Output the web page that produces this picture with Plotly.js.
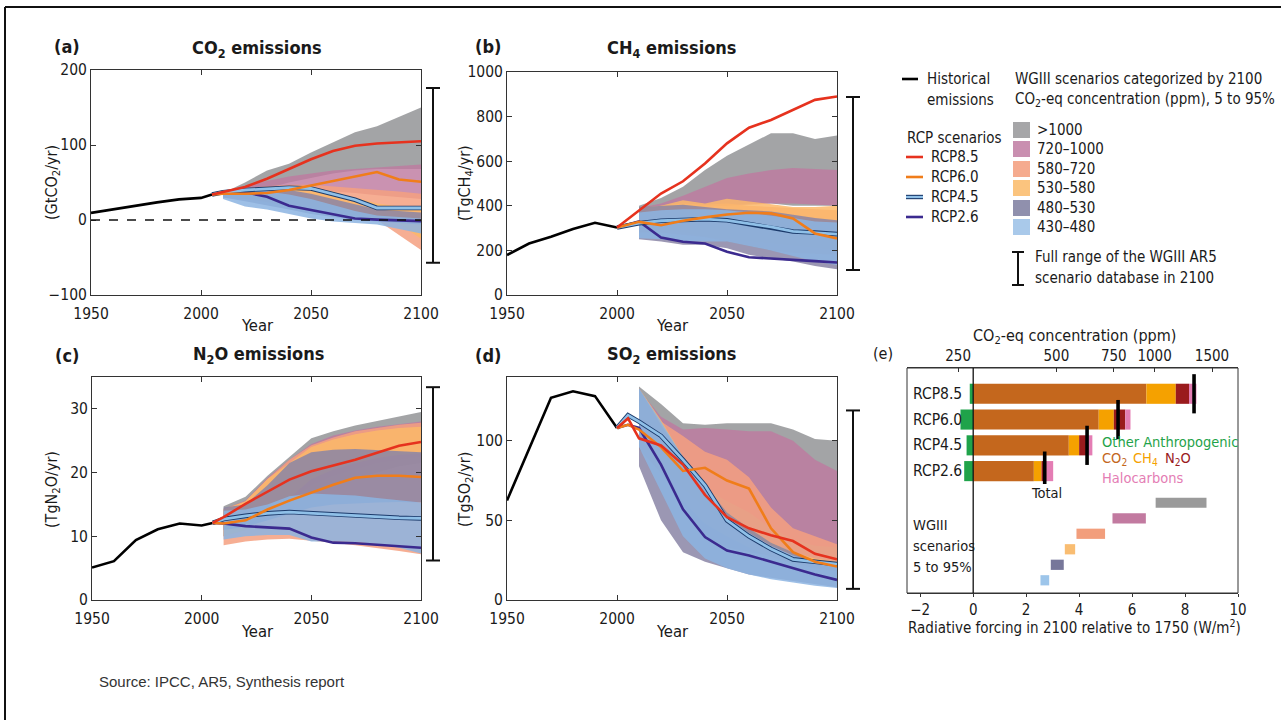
<!DOCTYPE html>
<html>
<head>
<meta charset="utf-8">
<script src="https://cdn.plot.ly/plotly-3.0.1.min.js"></script>
<style>html,body{margin:0;padding:0;background:#fff;}#chart{width:1281px;height:720px;}</style>
</head>
<body>
<div id="chart"></div>
<script>
// ---------------- DATA ----------------
const bandYears = [2010, 2020, 2030, 2040, 2050, 2060, 2070, 2080, 2090, 2100];
const bandNames = ['>1000', '720–1000', '580–720', '530–580', '480–530', '430–480'];

// (a) CO2 emissions (GtCO2/yr)
const histYearsA = [1950, 1960, 1970, 1980, 1990, 2000, 2005];
const histCO2 = [9.5, 14, 19.5, 23.5, 27.5, 29.5, 34];
const rcpYearsA = [2005, 2010, 2020, 2030, 2040, 2050, 2060, 2070, 2080, 2090, 2100];
const co2_rcp85 = [34, 37, 44, 55, 68, 81, 92, 99, 102, 104, 105];
const co2_rcp60 = [34, 35, 35, 36, 40, 46, 53, 59, 64, 54, 51];
const co2_rcp45 = [34, 37, 40, 42, 43, 42, 35, 27, 16, 16, 16];
const co2_rcp26 = [34, 37, 37, 31, 19, 13, 7, 2, 0.5, -1, -1.5];
const co2_low = [
  [32, 38, 42, 50, 56, 62, 66, 68, 68, 68],
  [32, 34, 36, 38, 38, 38, 36, 33, 30, 28],
  [30, 28, 26, 22, 18, 14, 8, 0, -20, -40],
  [30, 28, 24, 18, 12, 8, 5, 2, -5, -25],
  [30, 25, 20, 14, 8, 4, 0, -2, -4, -6],
  [28, 18, 14, 8, 2, -2, -4, -6, -12, -18]
];
const co2_high = [
  [36, 50, 66, 75, 90, 103, 117, 125, 137, 150],
  [36, 45, 52, 58, 62, 66, 68, 70, 72, 74],
  [36, 42, 45, 47, 47, 45, 42, 40, 38, 35],
  [36, 40, 43, 45, 43, 38, 30, 22, 18, 15],
  [36, 40, 42, 40, 35, 28, 20, 14, 12, 10],
  [36, 38, 38, 34, 28, 20, 12, 6, 4, 2]
];

// (b) CH4 emissions (TgCH4/yr)
const histYearsB = [1950, 1960, 1970, 1980, 1990, 2000];
const histCH4 = [179, 231, 261, 296, 324, 303];
const rcpYearsB = [2000, 2010, 2020, 2030, 2040, 2050, 2060, 2070, 2080, 2090, 2100];
const ch4_rcp85 = [303, 380, 455, 510, 590, 680, 750, 785, 830, 875, 890];
const ch4_rcp60 = [303, 328, 313, 333, 348, 361, 369, 366, 343, 276, 254];
const ch4_rcp45 = [303, 322, 333, 338, 340, 335, 320, 305, 285, 280, 273];
const ch4_rcp26 = [303, 330, 258, 239, 231, 194, 169, 164, 160, 152, 146];
const ch4_low = [
  [360, 380, 390, 400, 400, 410, 410, 400, 400, 400],
  [380, 390, 390, 395, 400, 405, 410, 410, 405, 400],
  [280, 280, 270, 260, 250, 240, 230, 220, 210, 200],
  [300, 290, 280, 260, 240, 220, 200, 190, 185, 180],
  [250, 240, 225, 225, 210, 180, 165, 150, 130, 115],
  [255, 250, 240, 240, 240, 220, 200, 175, 150, 135]
];
const ch4_high = [
  [400, 435, 485, 560, 625, 675, 725, 725, 700, 715],
  [390, 410, 445, 485, 525, 545, 560, 570, 565, 560],
  [390, 400, 410, 405, 410, 400, 395, 390, 385, 380],
  [390, 400, 425, 410, 432, 420, 410, 395, 395, 400],
  [395, 400, 405, 395, 385, 380, 375, 360, 345, 335],
  [370, 380, 385, 385, 380, 370, 355, 345, 330, 325]
];

// (c) N2O emissions (TgN2O/yr)
const histYearsC = [1950, 1960, 1970, 1980, 1990, 2000, 2005];
const histN2O = [5.1, 6.1, 9.4, 11.1, 12.0, 11.7, 12.1];
const rcpYearsC = [2005, 2010, 2020, 2030, 2040, 2050, 2060, 2070, 2080, 2090, 2100];
const n2o_rcp85 = [12.1, 13, 15.1, 17, 18.9, 20.2, 21.1, 22, 23.1, 24.2, 24.8];
const n2o_rcp60 = [12.1, 12, 12.5, 14.2, 15.6, 16.9, 18.1, 19.2, 19.5, 19.5, 19.3];
const n2o_rcp45 = [12.1, 12.7, 13.2, 13.6, 13.8, 13.6, 13.5, 13.3, 13, 12.9, 12.8];
const n2o_rcp26 = [12.1, 12, 11.6, 11.4, 11.2, 9.8, 9.0, 8.9, 8.7, 8.5, 8.2];
const n2o_low = [
  [10, 11, 13, 15, 17, 18, 19, 20, 21, 21.5],
  [10, 11, 13, 15.5, 18, 19.5, 20.5, 21.5, 22, 22.5],
  [8.6, 9.2, 9.5, 9.6, 9.3, 9.0, 8.6, 8.2, 7.7, 7.2],
  [10, 11, 13, 16, 19, 20.5, 21.5, 22.3, 22.8, 23],
  [11, 11.5, 12.5, 13.5, 14.5, 15, 15.2, 15.3, 15.4, 15.3],
  [9.5, 10, 10.2, 10.2, 9.2, 9.2, 9.1, 8.8, 8.2, 7.3]
];
const n2o_high = [
  [14.7, 16.2, 19.5, 22.5, 25.4, 26.5, 27.4, 28.1, 28.8, 29.5],
  [14.3, 15.6, 19.2, 22, 24.5, 25.8, 26.6, 27.2, 27.6, 28],
  [14, 15.5, 19, 22, 24.3, 25.5, 26.5, 27, 27.5, 27.8],
  [14.3, 15.5, 19, 21.5, 24, 25.2, 26, 26.6, 27, 27.2],
  [14.5, 15, 18, 21.5, 23.2, 23.6, 23.7, 23.5, 23.3, 23.2],
  [14, 14.2, 15, 16.3, 16.7, 16.6, 16.4, 16, 15.6, 15.3]
];

// (d) SO2 emissions (TgSO2/yr)
const histYearsD = [1950, 1960, 1970, 1980, 1990, 2000];
const histSO2 = [62.5, 95, 127, 131, 128, 108];
const rcpYearsD = [2000, 2005, 2010, 2020, 2030, 2040, 2050, 2060, 2070, 2080, 2090, 2100];
const so2_rcp85 = [108, 114, 101.5, 97, 85, 66, 52, 45, 40.6, 37, 29, 25.6];
const so2_rcp60 = [108, 110, 107, 96, 81, 83, 75, 70, 45, 30, 24, 21];
const so2_rcp45 = [108, 116, 112, 103, 88, 72, 50, 40, 32, 25.5, 24, 22.5];
const so2_rcp26 = [108, 110, 108, 85, 57, 39.5, 31, 28, 24, 20, 16, 12.6];
const so2_low = [
  [95, 80, 60, 40, 33, 30, 28, 26, 25, 24],
  [100, 90, 80, 70, 62, 55, 45, 38, 34, 33],
  [100, 85, 70, 58, 48, 40, 33, 28, 25, 22],
  [95, 80, 62, 48, 40, 33, 27, 23, 20, 18],
  [84, 50, 30, 24, 20, 16, 14, 12, 10, 8],
  [96, 68, 40, 26, 20, 16, 13, 11, 9, 7.5]
];
const so2_high = [
  [134, 123, 111, 110, 111, 111, 111, 107, 101, 100],
  [132, 115, 107, 108, 107, 106, 106, 100, 88, 81],
  [133, 112, 103, 93, 88, 77, 58, 45, 40, 35],
  [133, 113, 90, 70, 55, 45, 36, 30, 26, 24],
  [133, 110, 90, 72, 55, 45, 36, 30, 25, 22],
  [133, 112, 90, 70, 52, 42, 34, 28, 24, 21]
];

// Full range of WGIII AR5 scenario database in 2100 (a, b, c, d)
const fullRangeLow = [-57, 112, 6.2, 7];
const fullRangeHigh = [176, 888, 33.4, 119];

// (e) Radiative forcing in 2100 relative to 1750 (W/m2)
const rcpNames = ['RCP8.5', 'RCP6.0', 'RCP4.5', 'RCP2.6'];
const rfOther = [-0.13, -0.48, -0.25, -0.34];
const rfCO2 = [6.54, 4.74, 3.61, 2.29];
const rfCH4 = [1.11, 0.57, 0.39, 0.29];
const rfN2O = [0.50, 0.43, 0.34, 0.19];
const rfHalo = [0.28, 0.20, 0.16, 0.25];
const rfTotal = [8.34, 5.47, 4.30, 2.70];
const wg3Low = [6.89, 5.26, 3.90, 3.46, 2.93, 2.54];
const wg3High = [8.81, 6.52, 4.98, 3.85, 3.42, 2.87];
const concTicks = [250, 500, 750, 1000, 1500];
const forcingTicks = [-2, 0, 2, 4, 6, 8, 10];

// ---------------- STYLE ----------------
const W = 1281, H = 720;
const X = p => p / W;
const Y = p => 1 - p / H;
const FONT = '"DejaVu Sans Condensed", "DejaVu Sans", sans-serif';
const TXT = '#1a1a1a';
const bandFill = ['rgba(150,151,154,0.88)', 'rgba(190,122,160,0.82)', 'rgba(245,160,128,0.85)',
                  'rgba(251,185,105,0.85)', 'rgba(138,133,166,0.85)', 'rgba(140,180,226,0.85)'];
const bandSwatch = ['#a6a6a8', '#c98fb0', '#f5ab8f', '#fbc47e', '#9090ad', '#a9c9ea'];
const C85 = '#e6321e', C60 = '#f07d1a', C45in = '#8fc0e8', C45out = '#1b3a6b', C26 = '#3b2a8f';
const rfColors = {other: '#1fa34a', co2: '#c4671d', ch4: '#f5a100', n2o: '#9a1b1d', halo: '#e47db4'};
const wg3Colors = ['#9a9a9a', '#c27aa0', '#f29e7c', '#f9bd72', '#77779a', '#9dc5ea'];

// ---------------- TRACES ----------------
const traces = [];
function panel(xa, ya, lows, highs, hy, hv, ry, r85, r60, r45, r26) {
  for (let i = 0; i < lows.length; i++) {
    traces.push({
      type: 'scatter', mode: 'lines', xaxis: xa, yaxis: ya,
      x: bandYears.concat(bandYears.slice().reverse()),
      y: highs[i].concat(lows[i].slice().reverse()),
      fill: 'toself', fillcolor: bandFill[i], line: {width: 0}, hoverinfo: 'skip', showlegend: false
    });
  }
  traces.push({type: 'scatter', mode: 'lines', xaxis: xa, yaxis: ya, x: hy, y: hv,
    line: {color: '#000', width: 2.6}, showlegend: false});
  traces.push({type: 'scatter', mode: 'lines', xaxis: xa, yaxis: ya, x: ry, y: r26,
    line: {color: C26, width: 2.6}, showlegend: false});
  traces.push({type: 'scatter', mode: 'lines', xaxis: xa, yaxis: ya, x: ry, y: r45,
    line: {color: C45out, width: 4.6}, showlegend: false});
  traces.push({type: 'scatter', mode: 'lines', xaxis: xa, yaxis: ya, x: ry, y: r45,
    line: {color: C45in, width: 2.8}, showlegend: false});
  traces.push({type: 'scatter', mode: 'lines', xaxis: xa, yaxis: ya, x: ry, y: r60,
    line: {color: C60, width: 2.6}, showlegend: false});
  traces.push({type: 'scatter', mode: 'lines', xaxis: xa, yaxis: ya, x: ry, y: r85,
    line: {color: C85, width: 2.6}, showlegend: false});
}
panel('x', 'y', co2_low, co2_high, histYearsA, histCO2, rcpYearsA, co2_rcp85, co2_rcp60, co2_rcp45, co2_rcp26);
panel('x2', 'y2', ch4_low, ch4_high, histYearsB, histCH4, rcpYearsB, ch4_rcp85, ch4_rcp60, ch4_rcp45, ch4_rcp26);
panel('x3', 'y3', n2o_low, n2o_high, histYearsC, histN2O, rcpYearsC, n2o_rcp85, n2o_rcp60, n2o_rcp45, n2o_rcp26);
panel('x4', 'y4', so2_low, so2_high, histYearsD, histSO2, rcpYearsD, so2_rcp85, so2_rcp60, so2_rcp45, so2_rcp26);

// (e) stacked forcing bars
[[rfOther, rfColors.other], [rfCO2, rfColors.co2], [rfCH4, rfColors.ch4], [rfN2O, rfColors.n2o], [rfHalo, rfColors.halo]]
  .forEach(([vals, col]) => {
    traces.push({type: 'bar', orientation: 'h', xaxis: 'x5', yaxis: 'y5', x: vals, y: rcpNames,
      width: 0.78, marker: {color: col, line: {width: 0}}, showlegend: false, hoverinfo: 'skip'});
  });
traces.push({type: 'scatter', mode: 'markers', xaxis: 'x5', yaxis: 'y5', x: rfTotal, y: rcpNames,
  marker: {symbol: 'line-ns', size: 28, line: {width: 3.6, color: '#000'}}, showlegend: false, hoverinfo: 'skip'});
traces.push({type: 'bar', orientation: 'h', xaxis: 'x5', yaxis: 'y6',
  base: wg3Low, x: wg3High.map((h, i) => h - wg3Low[i]), y: bandNames, width: 0.66,
  marker: {color: wg3Colors, line: {width: 0}}, showlegend: false, hoverinfo: 'skip'});
// invisible helper so the top (concentration) axis is drawn
traces.push({type: 'scatter', mode: 'markers', xaxis: 'x6', yaxis: 'y5', x: [rfTotal[0]], y: [rcpNames[0]],
  marker: {opacity: 0, size: 1}, showlegend: false, hoverinfo: 'skip'});

// ---------------- AXES ----------------
const tickFont = {family: FONT, size: 15.5, color: TXT};
function mainX(l, r, anchor) {
  return {domain: [X(l), X(r)], anchor: anchor, range: [1950, 2100], tickvals: [1950, 2000, 2050, 2100],
    ticks: 'inside', ticklen: 5, tickcolor: '#333', showline: true, linecolor: '#333', linewidth: 1,
    mirror: 'ticks', showgrid: false, zeroline: false, tickfont: tickFont, fixedrange: true, ticklabelstandoff: 4};
}
function mainY(t, b, anchor, range, tv) {
  return {domain: [Y(b), Y(t)], anchor: anchor, range: range, tickvals: tv,
    ticks: 'inside', ticklen: 5, tickcolor: '#333', showline: true, linecolor: '#333', linewidth: 1,
    mirror: 'ticks', showgrid: false, zeroline: false, tickfont: tickFont, fixedrange: true};
}
const C0 = 278;
const concPos = concTicks.map(c => 5.35 * Math.log(c / C0));
const eTickFont = {family: FONT, size: 15, color: TXT};

const layout = {
  width: W, height: H, margin: {l: 0, r: 0, t: 0, b: 0}, paper_bgcolor: '#fff', plot_bgcolor: 'rgba(0,0,0,0)',
  showlegend: false, barmode: 'relative', font: {family: FONT, color: TXT},
  xaxis: mainX(91, 421, 'y'), yaxis: mainY(70, 295, 'x', [-100, 200], [-100, 0, 100, 200]),
  xaxis2: mainX(507, 837, 'y2'), yaxis2: mainY(72, 295, 'x2', [0, 1000], [0, 200, 400, 600, 800, 1000]),
  xaxis3: mainX(92, 421, 'y3'), yaxis3: mainY(377, 600, 'x3', [0, 35], [0, 10, 20, 30]),
  xaxis4: mainX(507, 837, 'y4'), yaxis4: mainY(377, 600, 'x4', [0, 140], [0, 50, 100]),
  xaxis5: {domain: [X(907), X(1238)], anchor: 'y6', side: 'bottom', range: [-2.5, 10], tickvals: forcingTicks,
    ticks: 'outside', ticklen: 3, tickcolor: '#333', showline: true, linecolor: '#333', showgrid: false,
    zeroline: false, tickfont: eTickFont, fixedrange: true},
  xaxis6: {domain: [X(907), X(1238)], overlaying: 'x5', side: 'top', anchor: 'y5', range: [-2.5, 10],
    tickvals: concPos, ticktext: concTicks.map(String), ticks: 'inside', ticklen: 4, tickcolor: '#333',
    showline: true, linecolor: '#333', showgrid: false, zeroline: false, tickfont: eTickFont, fixedrange: true},
  yaxis5: {domain: [Y(484), Y(368)], anchor: 'x5', type: 'category', categoryarray: rcpNames,
    range: [3.5, -1.0], ticks: '', showline: false, showgrid: false, zeroline: false,
    showticklabels: false, fixedrange: true},
  yaxis6: {domain: [Y(593), Y(495)], anchor: 'x5', type: 'category', categoryarray: bandNames,
    range: [5.82, -0.5], showticklabels: false, ticks: '', showline: false, showgrid: false, zeroline: false,
    fixedrange: true},
  shapes: [], annotations: []
};

// ---------------- SHAPES ----------------
const S = layout.shapes;
// outer frame
S.push({type: 'line', xref: 'paper', yref: 'paper', x0: X(5), x1: X(5), y0: Y(7), y1: Y(720), line: {color: '#111', width: 2}});
S.push({type: 'line', xref: 'paper', yref: 'paper', x0: X(5), x1: X(1281), y0: Y(7), y1: Y(7), line: {color: '#111', width: 2}});
// zero dashed line in (a)
S.push({type: 'line', xref: 'x', yref: 'y', x0: 1950, x1: 2100, y0: 0, y1: 0, line: {color: '#111', width: 1.3, dash: 'dash'}});
// full-range bars
[['y', 433], ['y2', 853], ['y3', 433], ['y4', 853]].forEach(([yr, px], i) => {
  const lo = fullRangeLow[i], hi = fullRangeHigh[i];
  const st = {color: '#111', width: 2};
  S.push({type: 'line', xref: 'paper', yref: yr, x0: X(px), x1: X(px), y0: lo, y1: hi, line: st});
  S.push({type: 'line', xref: 'paper', yref: yr, x0: X(px - 7), x1: X(px + 7), y0: lo, y1: lo, line: st});
  S.push({type: 'line', xref: 'paper', yref: yr, x0: X(px - 7), x1: X(px + 7), y0: hi, y1: hi, line: st});
});
// (e) frame and zero line
S.push({type: 'rect', xref: 'paper', yref: 'paper', x0: X(907), x1: X(1238), y0: Y(593), y1: Y(368), line: {color: '#333', width: 1}, layer: 'below'});
S.push({type: 'line', xref: 'x5', yref: 'paper', x0: 0, x1: 0, y0: Y(593), y1: Y(368), line: {color: '#111', width: 1.3}});
// legend swatches
S.push({type: 'line', xref: 'paper', yref: 'paper', x0: X(902), x1: X(918), y0: Y(79), y1: Y(79), line: {color: '#000', width: 2.6}});
const legY = [157, 177, 197, 217];
S.push({type: 'line', xref: 'paper', yref: 'paper', x0: X(906), x1: X(923), y0: Y(legY[0]), y1: Y(legY[0]), line: {color: C85, width: 2.6}});
S.push({type: 'line', xref: 'paper', yref: 'paper', x0: X(906), x1: X(923), y0: Y(legY[1]), y1: Y(legY[1]), line: {color: C60, width: 2.6}});
S.push({type: 'line', xref: 'paper', yref: 'paper', x0: X(906), x1: X(923), y0: Y(legY[2]), y1: Y(legY[2]), line: {color: C45out, width: 4.4}});
S.push({type: 'line', xref: 'paper', yref: 'paper', x0: X(906), x1: X(923), y0: Y(legY[2]), y1: Y(legY[2]), line: {color: C45in, width: 2.2}});
S.push({type: 'line', xref: 'paper', yref: 'paper', x0: X(906), x1: X(923), y0: Y(legY[3]), y1: Y(legY[3]), line: {color: C26, width: 2.6}});
const sqY = [130, 149, 169, 188, 208, 227];
sqY.forEach((cy, i) => {
  S.push({type: 'rect', xref: 'paper', yref: 'paper', x0: X(1013), x1: X(1030), y0: Y(cy + 8), y1: Y(cy - 8),
    fillcolor: bandSwatch[i], line: {width: 0}});
});
S.push({type: 'line', xref: 'paper', yref: 'paper', x0: X(1018), x1: X(1018), y0: Y(252), y1: Y(285), line: {color: '#111', width: 2}});
S.push({type: 'line', xref: 'paper', yref: 'paper', x0: X(1012), x1: X(1024), y0: Y(252), y1: Y(252), line: {color: '#111', width: 2}});
S.push({type: 'line', xref: 'paper', yref: 'paper', x0: X(1012), x1: X(1024), y0: Y(285), y1: Y(285), line: {color: '#111', width: 2}});

// ---------------- TEXT ----------------
const A = layout.annotations;
function ann(text, x, y, o) {
  o = o || {};
  A.push({text: text, x: X(x), y: Y(y), xref: 'paper', yref: 'paper', showarrow: false,
    xanchor: o.xa || 'center', yanchor: 'middle', textangle: o.rot || 0,
    font: {family: FONT, size: o.size || 16, color: o.color || TXT}});
}
// panel labels and titles
ann('<b>(a)</b>', 67, 47, {size: 18});
ann('<b>(b)</b>', 488, 47, {size: 18});
ann('<b>(c)</b>', 67, 355, {size: 18});
ann('<b>(d)</b>', 488, 355, {size: 18});
ann('(e)', 883, 353, {size: 16});
ann('<b>CO<sub>2</sub> emissions</b>', 257, 49, {size: 18});
ann('<b>CH<sub>4</sub> emissions</b>', 672, 49, {size: 18});
ann('<b>N<sub>2</sub>O emissions</b>', 258, 355, {size: 18});
ann('<b>SO<sub>2</sub> emissions</b>', 672, 355, {size: 18});
// axis titles
ann('(GtCO<sub>2</sub>/yr)', 52, 183, {rot: -90});
ann('(TgCH<sub>4</sub>/yr)', 465, 183, {rot: -90});
ann('(TgN<sub>2</sub>O/yr)', 52, 490, {rot: -90});
ann('(TgSO<sub>2</sub>/yr)', 465, 490, {rot: -90});
ann('Year', 257, 326, {size: 16.5});
ann('Year', 672, 326, {size: 16.5});
ann('Year', 257, 631, {size: 16.5});
ann('Year', 672, 631, {size: 16.5});
// legend
const LS = 15;
ann('Historical', 925, 79, {xa: 'left', size: LS});
ann('emissions', 925, 100, {xa: 'left', size: LS});
ann('WGIII scenarios categorized by 2100', 1013, 79, {xa: 'left', size: LS});
ann('CO<sub>2</sub>-eq concentration (ppm), 5 to 95%', 1013, 100, {xa: 'left', size: LS});
ann('RCP scenarios', 905, 138, {xa: 'left', size: LS});
rcpNames.forEach((n, i) => ann(n, 929, legY[i], {xa: 'left', size: LS}));
bandNames.forEach((n, i) => ann(n, 1035, sqY[i], {xa: 'left', size: LS}));
ann('Full range of the WGIII AR5', 1033, 257, {xa: 'left', size: LS});
ann('scenario database in 2100', 1033, 278, {xa: 'left', size: LS});
// panel (e) row labels, placed on the category axis
rcpNames.forEach(n => {
  A.push({text: n, x: X(911), y: n, xref: 'paper', yref: 'y5', showarrow: false, xanchor: 'left', yanchor: 'middle',
    font: {family: FONT, size: 15.5, color: TXT}});
});
// panel (e) text
ann('CO<sub>2</sub>-eq concentration (ppm)', 1074, 336, {size: 16});
ann('Radiative forcing in 2100 relative to 1750 (W/m<sup>2</sup>)', 1074, 627, {size: 15});
ann('Other Anthropogenic', 1100, 442, {xa: 'left', size: 14.5, color: rfColors.other});
ann('CO<sub>2</sub>', 1100, 459, {xa: 'left', size: 14.5, color: rfColors.co2});
ann('CH<sub>4</sub>', 1131, 459, {xa: 'left', size: 14.5, color: rfColors.ch4});
ann('N<sub>2</sub>O', 1163, 459, {xa: 'left', size: 14.5, color: rfColors.n2o});
ann('Halocarbons', 1100, 478, {xa: 'left', size: 14.5, color: rfColors.halo});
ann('Total', 1046, 493, {size: 14.5});
ann('WGIII', 911, 525, {xa: 'left', size: 14.5});
ann('scenarios', 911, 546, {xa: 'left', size: 14.5});
ann('5 to 95%', 911, 567, {xa: 'left', size: 14.5});
// source
A.push({text: 'Source: IPCC, AR5, Synthesis report', x: X(97), y: Y(681), xref: 'paper', yref: 'paper',
  showarrow: false, xanchor: 'left', yanchor: 'middle', font: {family: '"Liberation Sans", Arial, sans-serif', size: 15, color: '#333'}});

Plotly.newPlot('chart', traces, layout, {displayModeBar: false, staticPlot: true});
</script>
</body>
</html>
